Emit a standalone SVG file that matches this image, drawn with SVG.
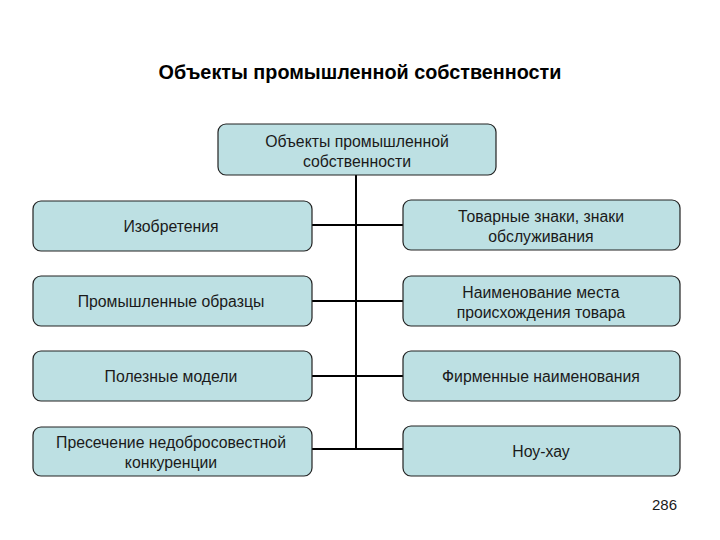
<svg xmlns="http://www.w3.org/2000/svg" width="720" height="540" viewBox="0 0 720 540">
<style>
.box{fill:#bde0e3;stroke:#222;stroke-width:1.2}
.t{font-family:"Liberation Sans",Arial,sans-serif;font-size:15.8px;fill:#1a1a1a;text-anchor:middle}
.ln{stroke:#000;stroke-width:2;fill:none}
</style>
<rect width="720" height="540" fill="#fff"/>
<text x="360" y="79" font-family="Liberation Sans,Arial,sans-serif" font-size="19.8" font-weight="bold" text-anchor="middle" fill="#000">Объекты промышленной собственности</text>
<g id="connectors">
<line class="ln" x1="356" y1="175" x2="356" y2="449"/>
<line class="ln" x1="312" y1="225" x2="403" y2="225"/>
<line class="ln" x1="312" y1="301" x2="403" y2="301"/>
<line class="ln" x1="312" y1="376" x2="403" y2="376"/>
<line class="ln" x1="312" y1="449" x2="403" y2="449"/>
</g>
<g id="root"><rect class="box" x="218" y="124" width="278" height="51" rx="8"/><text class="t" x="357" y="147">Объекты промышленной</text><text class="t" x="357" y="167">собственности</text></g>
<g id="n1"><rect class="box" x="33" y="201" width="279" height="50" rx="8"/><text class="t" x="171" y="232">Изобретения</text></g>
<g id="n2"><rect class="box" x="33" y="276" width="279" height="50" rx="8"/><text class="t" x="171" y="307">Промышленные образцы</text></g>
<g id="n3"><rect class="box" x="33" y="351" width="279" height="50" rx="8"/><text class="t" x="171" y="382">Полезные модели</text></g>
<g id="n4"><rect class="box" x="33" y="427" width="279" height="49" rx="8"/><text class="t" x="171" y="448">Пресечение недобросовестной</text><text class="t" x="171" y="468">конкуренции</text></g>
<g id="n5"><rect class="box" x="403" y="200" width="277" height="50" rx="8"/><text class="t" x="541" y="222">Товарные знаки, знаки</text><text class="t" x="541" y="242">обслуживания</text></g>
<g id="n6"><rect class="box" x="403" y="276" width="277" height="50" rx="8"/><text class="t" x="541" y="298">Наименование места</text><text class="t" x="541" y="318">происхождения товара</text></g>
<g id="n7"><rect class="box" x="403" y="351" width="277" height="50" rx="8"/><text class="t" x="541" y="382">Фирменные наименования</text></g>
<g id="n8"><rect class="box" x="403" y="426" width="277" height="50" rx="8"/><text class="t" x="541" y="457">Ноу-хау</text></g>
<text x="677" y="510" font-family="Liberation Sans,Arial,sans-serif" font-size="15" text-anchor="end" fill="#1a1a1a">286</text>
</svg>
